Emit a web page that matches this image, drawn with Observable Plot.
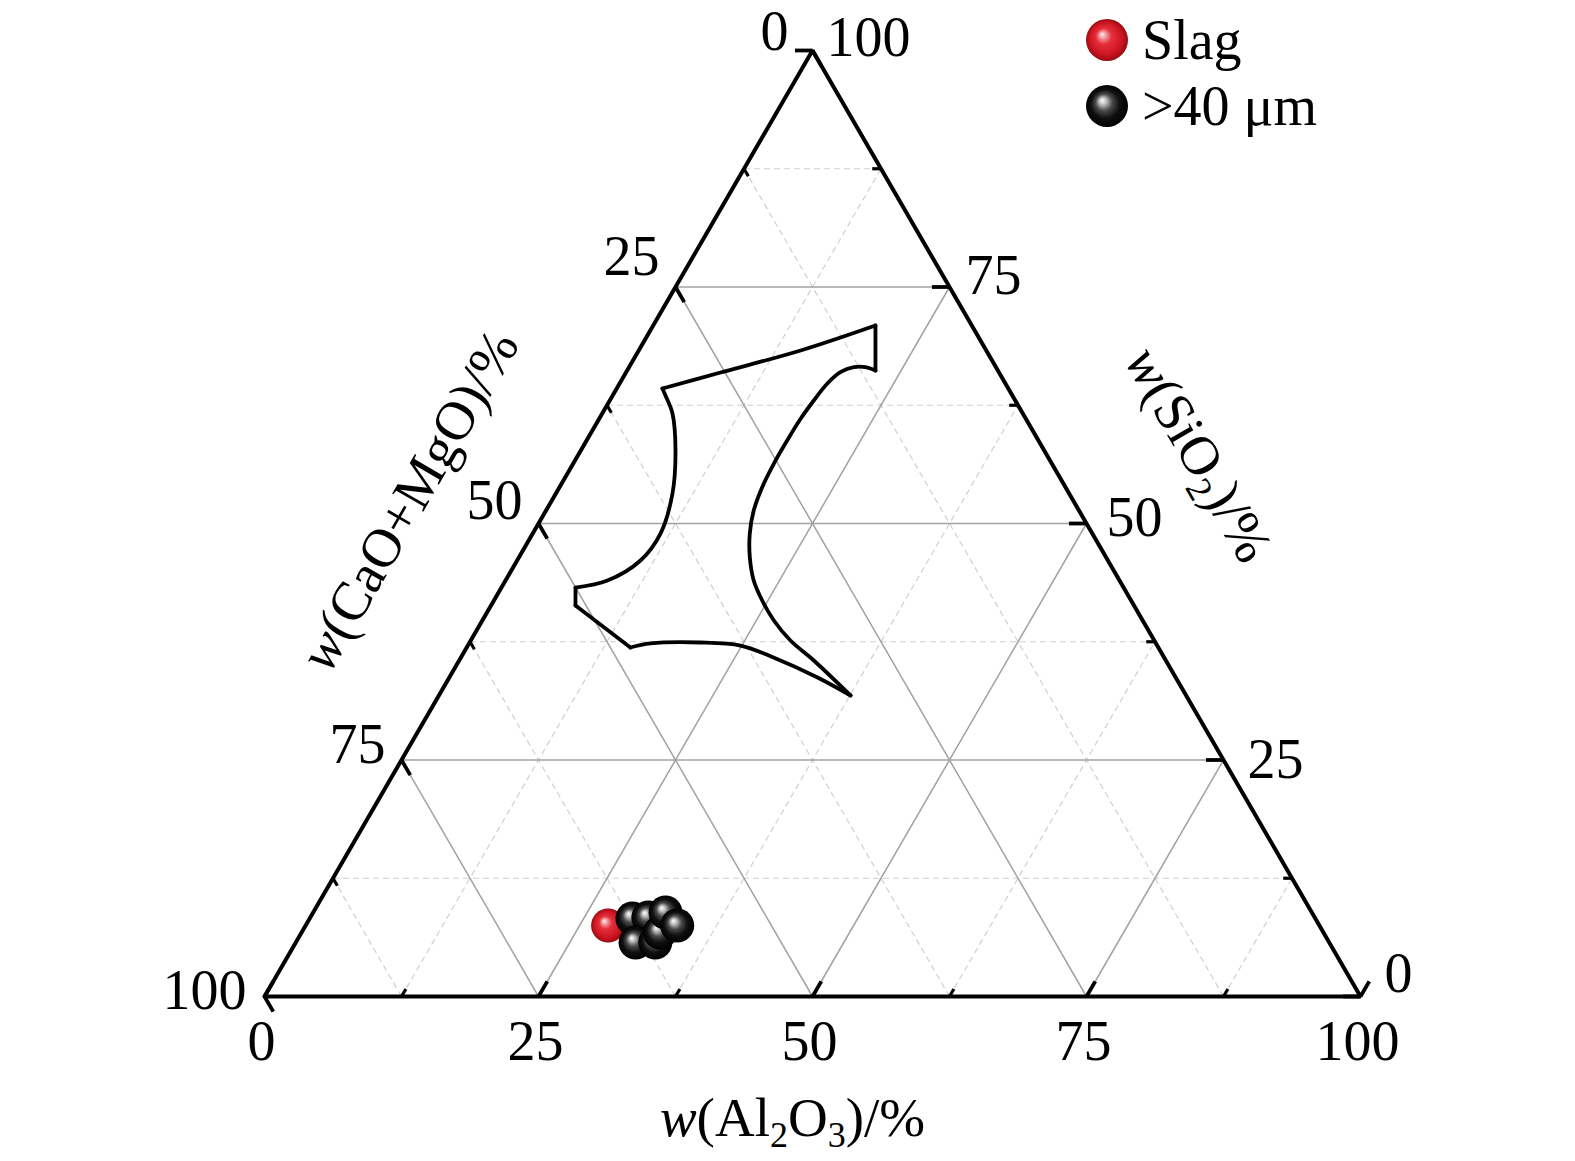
<!DOCTYPE html>
<html>
<head>
<meta charset="utf-8">
<script src="https://cdn.jsdelivr.net/npm/d3@7"></script>
<script src="https://cdn.jsdelivr.net/npm/@observablehq/plot@0.6"></script>
<style>
html, body { margin: 0; padding: 0; background: #fff; }
#wrap { position: relative; width: 1575px; height: 1161px; }
#legend { position: absolute; left: 1086px; top: 7px; font-family: 'Liberation Serif', 'Times New Roman', serif; font-size: 56px; color: #000; }
#legend .row { display: flex; align-items: center; height: 66px; }
#legend .row span { margin-left: 14px; line-height: 1; }
</style>
</head>
<body>
<div id="wrap"><div id="chart"></div><div id="legend"></div></div>
<script>
// ---- data ----
const majorTicks = [0, 25, 50, 75, 100];
const innerMajor = [25, 50, 75];
const minorTicks = [12.5, 37.5, 62.5, 87.5];

const legendLabels = ["Slag", ">40 μm"];
const legendFills = ["url(#gRed)", "url(#gBlack)"];

// Slag composition (SiO2 %, Al2O3 %)
const slagSiO2 = [7.5];
const slagAl2O3 = [27.6];

// >40 μm inclusions (SiO2 %, Al2O3 %)
const incSiO2 = [8.25, 8.35, 5.71, 5.71, 6.77, 8.88, 7.51];
const incAl2O3 = [29.45, 30.85, 31.0, 32.8, 32.7, 32.15, 33.9];

// Low-melting region outline, by segment (SiO2 %, Al2O3 %)
const regionSeg = [
  "A","A","A","A",
  "B","B",
  "C","C","C","C","C","C","C","C","C","C","C","C","C","C","C","C","C","C","C",
  "D","D","D","D","D","D","D",
  "E","E",
  "F","F",
  "G","G","G","G","G","G","G","G","G"
];
const regionSiO2 = [
  64.27, 65.96, 68.29, 70.93,
  70.93, 66.17,
  66.17, 66.52, 66.52, 65.99, 64.77, 63.00, 61.07, 58.77, 56.31, 53.84, 51.37, 48.91, 46.44, 43.97, 41.86, 39.75, 37.63, 35.52, 31.82,
  31.82, 33.72, 35.84, 37.10, 37.42, 37.32, 36.89,
  36.89, 41.33,
  41.33, 43.23,
  43.23, 43.97, 46.09, 48.94, 53.17, 57.72, 61.63, 63.53, 64.27
];
const regionAl2O3 = [
  4.17, 8.63, 14.77, 20.28,
  20.28, 22.66,
  22.66, 21.58, 20.51, 19.55, 18.95, 18.62, 18.38, 18.30, 18.31, 18.49, 18.95, 19.82, 21.06, 22.65, 24.48, 26.60, 29.17, 32.36, 37.56,
  37.56, 33.60, 28.52, 24.88, 21.07, 16.56, 14.94,
  14.94, 7.71,
  7.71, 6.76,
  6.76, 9.31, 11.26, 11.66, 10.64, 8.64, 6.41, 4.82, 4.17
];

const axisTitles = ["w(CaO+MgO)/%", "w(SiO2)/%", "w(Al2O3)/%"];

// ---- ternary helpers (x position = Al2O3 + SiO2/2, y = SiO2) ----
const TX = (al, si) => al + si / 2;

const region = regionSeg.map((s, i) => ({seg: s, x: TX(regionAl2O3[i], regionSiO2[i]), y: regionSiO2[i]}));
const slag = slagSiO2.map((si, i) => ({x: TX(slagAl2O3[i], si), y: si}));
const inc = incSiO2.map((si, i) => ({x: TX(incAl2O3[i], si), y: si}));

function gridFor(values) {
  const out = [];
  for (const c of values) {
    out.push({x1: TX(0, c), y1: c, x2: TX(100 - c, c), y2: c});               // SiO2 = c
    out.push({x1: TX(c, 0), y1: 0, x2: TX(c, 100 - c), y2: 100 - c});         // Al2O3 = c
    out.push({x1: TX(100 - c, 0), y1: 0, x2: TX(0, 100 - c), y2: 100 - c});   // CaO+MgO = c
  }
  return out;
}
const majorGrid = gridFor(innerMajor);
const minorGrid = gridFor(minorTicks);

function ticksFor(values, L) {
  const out = [];
  for (const v of values) {
    out.push({x1: TX(v, 0), y1: 0, x2: TX(v, L), y2: L});                                   // bottom
    out.push({x1: TX(100 - v, v), y1: v, x2: TX(100 - v - L, v), y2: v});                   // right
    out.push({x1: TX(0, 100 - v), y1: 100 - v, x2: TX(L, 100 - v - L), y2: 100 - v - L});   // left
  }
  return out;
}
const majorTickSegs = ticksFor(majorTicks, 1.6);
const minorTickSegs = ticksFor(minorTicks, 0.8);

const triangle = [{x: TX(0, 0), y: 0}, {x: TX(100, 0), y: 0}, {x: TX(0, 100), y: 100}, {x: TX(0, 0), y: 0}];
const bottomAll = majorTicks.map(v => ({v, x: TX(v, 0), y: 0}));

const serif = "'Liberation Serif', 'Times New Roman', serif";

const leftLabelMarks = innerMajor.map(v =>
  Plot.text([v], {x: d => TX(0, 100 - d), y: d => 100 - d, text: d => String(d), textAnchor: "end", dx: -16, dy: -37.5 + 0.3 * v}));
const rightLabelMarks = innerMajor.map(v =>
  Plot.text([v], {x: d => TX(100 - d, d), y: d => d, text: d => String(d), textAnchor: "start", dx: 28 - 0.16 * v, dy: 6 - 0.22 * v}));

const svg = Plot.plot({
  width: 1575,
  height: 1161,
  margin: 0,
  x: {domain: [0, 100], range: [264, 1360], axis: null},
  y: {domain: [0, 100], range: [996, 50], axis: null},
  style: {fontFamily: serif, fontSize: "56px", background: "#fff", color: "#000"},
  marks: [
    Plot.link(minorGrid, {x1: "x1", y1: "y1", x2: "x2", y2: "y2", stroke: "#d0d0d0", strokeWidth: 1.2, strokeDasharray: "6,4"}),
    Plot.link(majorGrid, {x1: "x1", y1: "y1", x2: "x2", y2: "y2", stroke: "#a2a2a2", strokeWidth: 1.5}),
    Plot.line(triangle, {x: "x", y: "y", stroke: "#000", strokeWidth: 4, strokeLinejoin: "miter"}),
    Plot.link(majorTickSegs, {x1: "x1", y1: "y1", x2: "x2", y2: "y2", stroke: "#000", strokeWidth: 3.8}),
    Plot.link(minorTickSegs, {x1: "x1", y1: "y1", x2: "x2", y2: "y2", stroke: "#000", strokeWidth: 3.2}),
    Plot.line(region, {x: "x", y: "y", z: "seg", stroke: "#000", strokeWidth: 3.8, curve: "catmull-rom", strokeLinecap: "round"}),
    Plot.dot(slag, {x: "x", y: "y", r: 17, fill: "url(#gRed)"}),
    Plot.dot(inc, {x: "x", y: "y", r: 17, fill: "url(#gBlack)"}),
    // tick labels: left axis (CaO+MgO)
    ...leftLabelMarks,
    Plot.text([100], {x: () => TX(0, 0), y: () => 0, text: d => String(d), textAnchor: "end", dx: -18, dy: -5}),
    Plot.text([0], {x: () => TX(0, 100), y: () => 100, text: d => String(d), textAnchor: "end", dx: -24, dy: -18}),
    // right axis (SiO2)
    ...rightLabelMarks,
    Plot.text([100], {x: () => TX(0, 100), y: () => 100, text: d => String(d), textAnchor: "start", dx: 14, dy: -12}),
    Plot.text([0], {x: () => TX(100, 0), y: () => 0, text: d => String(d), textAnchor: "start", dx: 24, dy: -22}),
    // bottom axis (Al2O3)
    Plot.text(bottomAll, {x: "x", y: "y", text: d => String(d.v), textAnchor: "middle", dx: -3, dy: 46}),
    // axis titles
    Plot.text([axisTitles[0]], {x: () => TX(0, 50), y: () => 50, text: d => d, rotate: -60, dx: -129, dy: -23, fontSize: 55}),
    Plot.text([axisTitles[1]], {x: () => TX(50, 50), y: () => 50, text: d => d, rotate: 60, dx: 112, dy: -69, fontSize: 55}),
    Plot.text([axisTitles[2]], {x: () => TX(50, 0), y: () => 0, text: d => d, dx: -20, dy: 122, fontSize: 55})
  ]
});

// gradients for the glossy balls
const defs = d3.select(svg).insert("defs", ":first-child");
function ball(id, stops) {
  const g = defs.append("radialGradient").attr("id", id)
    .attr("cx", "0.5").attr("cy", "0.5").attr("r", "0.5")
    .attr("fx", "0.38").attr("fy", "0.36");
  for (const [o, c] of stops) g.append("stop").attr("offset", o).attr("stop-color", c);
}
ball("gRed", [["0%", "#fff2f2"], ["16%", "#f39a9f"], ["38%", "#e4303a"], ["78%", "#cc1420"], ["100%", "#960b12"]]);
ball("gBlack", [["0%", "#ffffff"], ["16%", "#c4c4c4"], ["40%", "#4a4a4a"], ["68%", "#101010"], ["100%", "#000"]]);

// rich text for titles (italic w, subscripts)
d3.select(svg).selectAll("text").each(function () {
  const t = this.textContent;
  if (!axisTitles.includes(t)) return;
  const parts = [{s: "w", italic: true}];
  const body = t.slice(1);
  const re = /(\d)/g;
  let last = 0, m;
  while ((m = re.exec(body)) !== null) {
    parts.push({s: body.slice(last, m.index)});
    parts.push({s: m[1], sub: true});
    last = m.index + 1;
  }
  parts.push({s: body.slice(last)});
  const sel = d3.select(this);
  sel.text(null);
  let shifted = false;
  for (const p of parts) {
    if (!p.s) continue;
    const ts = sel.append("tspan").text(p.s);
    if (p.italic) ts.attr("font-style", "italic");
    if (p.sub) { ts.attr("font-size", "36px").attr("dy", "11"); shifted = true; }
    else if (shifted) { ts.attr("dy", "-11"); shifted = false; }
  }
});

document.getElementById("chart").appendChild(svg);

// legend
const legend = d3.select("#legend");
legendLabels.forEach((lab, i) => {
  const row = legend.append("div").attr("class", "row");
  const s = row.append("svg").attr("width", 42).attr("height", 42);
  s.append("circle").attr("cx", 21).attr("cy", 21).attr("r", 21).attr("fill", legendFills[i]);
  row.append("span").text(lab);
});
</script>
</body>
</html>
